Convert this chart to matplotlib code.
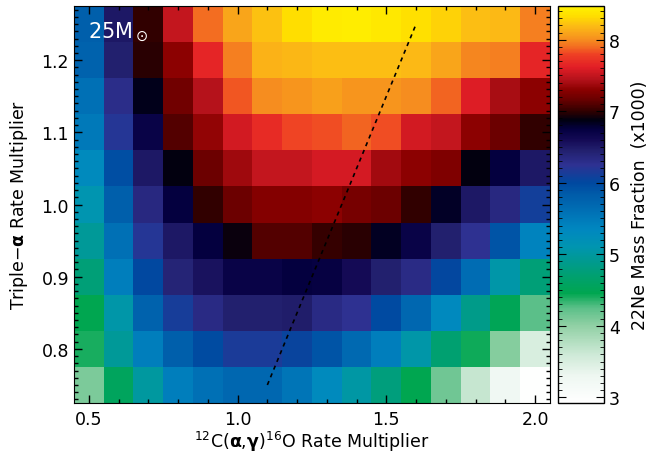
import numpy as np
import matplotlib
matplotlib.use("Agg")
import matplotlib.pyplot as plt
from matplotlib.colors import LinearSegmentedColormap
from matplotlib.ticker import MultipleLocator

# multipliers (cell centres)
c12_mult = [0.5, 0.6, 0.7, 0.8, 0.9, 1.0, 1.1, 1.2, 1.3, 1.4, 1.5, 1.6, 1.7, 1.8, 1.9, 2.0]
triple_alpha_mult = [0.75, 0.80, 0.85, 0.90, 0.95, 1.00, 1.05, 1.10, 1.15, 1.20, 1.25]

# 22Ne mass fraction (x1000), one row per triple-alpha multiplier (bottom -> top)
ne22_075 = [4.10, 4.55, 5.00, 5.45, 5.60, 5.70, 5.70, 5.55, 5.30, 5.03, 4.78, 4.45, 4.15, 3.65, 3.25, 2.95]
ne22_080 = [4.40, 4.95, 5.45, 5.80, 5.97, 6.15, 6.15, 6.05, 5.90, 5.68, 5.45, 5.05, 4.70, 4.42, 4.05, 3.50]
ne22_085 = [4.45, 5.05, 5.75, 6.12, 6.33, 6.45, 6.45, 6.47, 6.33, 6.25, 5.98, 5.70, 5.32, 4.85, 4.50, 4.25]
ne22_090 = [4.75, 5.45, 6.00, 6.40, 6.55, 6.70, 6.70, 6.75, 6.73, 6.60, 6.45, 6.32, 6.02, 5.65, 5.05, 4.75]
ne22_095 = [4.95, 5.60, 6.20, 6.50, 6.75, 6.90, 7.10, 7.10, 7.01, 6.98, 6.83, 6.70, 6.45, 6.25, 5.90, 5.40]
ne22_100 = [5.10, 5.80, 6.35, 6.75, 7.00, 7.17, 7.27, 7.27, 7.30, 7.22, 7.17, 7.00, 6.82, 6.50, 6.35, 6.10]
ne22_105 = [5.30, 5.95, 6.50, 6.88, 7.17, 7.37, 7.50, 7.50, 7.57, 7.56, 7.38, 7.30, 7.25, 6.88, 6.75, 6.50]
ne22_110 = [5.50, 6.20, 6.70, 7.10, 7.33, 7.55, 7.68, 7.80, 7.82, 7.88, 7.82, 7.55, 7.50, 7.30, 7.17, 7.00]
ne22_115 = [5.60, 6.30, 6.85, 7.20, 7.45, 7.85, 8.00, 8.03, 8.07, 8.03, 8.03, 8.00, 7.88, 7.60, 7.40, 7.30]
ne22_120 = [5.75, 6.45, 6.98, 7.30, 7.65, 7.95, 8.15, 8.17, 8.20, 8.20, 8.20, 8.18, 8.10, 7.98, 7.95, 7.65]
ne22_125 = [5.80, 6.50, 7.00, 7.50, 7.90, 8.10, 8.22, 8.33, 8.42, 8.43, 8.40, 8.35, 8.28, 8.20, 8.18, 7.95]

# dashed guide line
line_x = [1.1, 1.6]
line_y = [0.75, 1.25]

vmin, vmax = 2.92, 8.47

# colour table (value, colour)
stops = [(2.92, '#ffffff'), (3.3, '#eef7f1'), (3.6, '#cde9d6'), (4.0, '#90d0a4'),
         (4.25, '#5abf88'), (4.45, '#00a650'), (4.7, '#00a070'), (4.9, '#009a90'),
         (5.1, '#0095b0'), (5.35, '#0087c0'), (5.6, '#0070b5'), (5.85, '#005aa8'),
         (6.0, '#0048a0'), (6.25, '#2e3192'), (6.45, '#22206e'), (6.6, '#140a55'),
         (6.75, '#040040'), (6.88, '#000010'), (7.0, '#300000'), (7.17, '#6a0000'),
         (7.3, '#8a0000'), (7.45, '#b5121b'), (7.62, '#e21e26'), (7.8, '#ef4124'),
         (7.9, '#f36b21'), (8.0, '#f68c1f'), (8.1, '#f9a51a'), (8.2, '#fcbc14'),
         (8.33, '#ffdd00'), (8.47, '#fff200')]
cmap = LinearSegmentedColormap.from_list(
    'ne22', [((v - vmin) / (vmax - vmin), c) for v, c in stops], N=512)

grid = np.array([ne22_075, ne22_080, ne22_085, ne22_090, ne22_095, ne22_100,
                 ne22_105, ne22_110, ne22_115, ne22_120, ne22_125])
x = np.array(c12_mult)
y = np.array(triple_alpha_mult)
xe = np.append(x - 0.05, x[-1] + 0.05)
ye = np.append(y - 0.025, y[-1] + 0.025)

plt.rcParams['font.family'] = 'DejaVu Sans'
plt.rcParams['font.size'] = 12

fig = plt.figure(figsize=(6.49, 4.6), dpi=100)
ax = fig.add_axes([0.114, 0.1217, 0.7334, 0.863])
cax = fig.add_axes([0.8598, 0.1217, 0.0709, 0.863])

mesh = ax.pcolormesh(xe, ye, grid, cmap=cmap, vmin=vmin, vmax=vmax)
ax.plot(line_x, line_y, color='black', lw=1.2, linestyle=(0, (2.5, 2.5)))
ax.set_xlim(xe[0], xe[-1])
ax.set_ylim(ye[0], ye[-1])

ax.xaxis.set_major_locator(MultipleLocator(0.5))
ax.xaxis.set_minor_locator(MultipleLocator(0.1))
ax.yaxis.set_major_locator(MultipleLocator(0.1))
ax.yaxis.set_minor_locator(MultipleLocator(0.01))
ax.xaxis.set_major_formatter(matplotlib.ticker.FormatStrFormatter('%.1f'))
ax.yaxis.set_major_formatter(matplotlib.ticker.FormatStrFormatter('%.1f'))
ax.tick_params(which='both', direction='in', top=True, right=True, labelsize=12.5)
ax.tick_params(which='major', length=6, width=1)
ax.tick_params(which='minor', length=3, width=1)
ax.tick_params(axis='x', pad=5)

ax.set_xlabel(r'$^{12}$C($\mathbf{\alpha}$,$\mathbf{\gamma}$)$^{16}$O Rate Multiplier', fontsize=12.5, labelpad=1)
ax.set_ylabel(r'Triple$-\mathbf{\alpha}$ Rate Multiplier', fontsize=12.5, labelpad=8)

ax.text(0.03, 0.965, r'25M$_\odot$', transform=ax.transAxes, color='white',
        fontsize=15, va='top', ha='left')

cb = fig.colorbar(mesh, cax=cax)
cb.set_ticks([3, 4, 5, 6, 7, 8])
cb.ax.yaxis.set_minor_locator(MultipleLocator(0.1))
cb.ax.tick_params(which='both', direction='in', left=True, right=True, labelsize=12.5)
cb.ax.tick_params(which='major', length=6)
cb.ax.tick_params(which='minor', length=3)
cb.outline.set_linewidth(1)
cb.set_label('22Ne Mass Fraction  (x1000)', fontsize=12.5, labelpad=8)

fig.savefig('out.png', dpi=100)
